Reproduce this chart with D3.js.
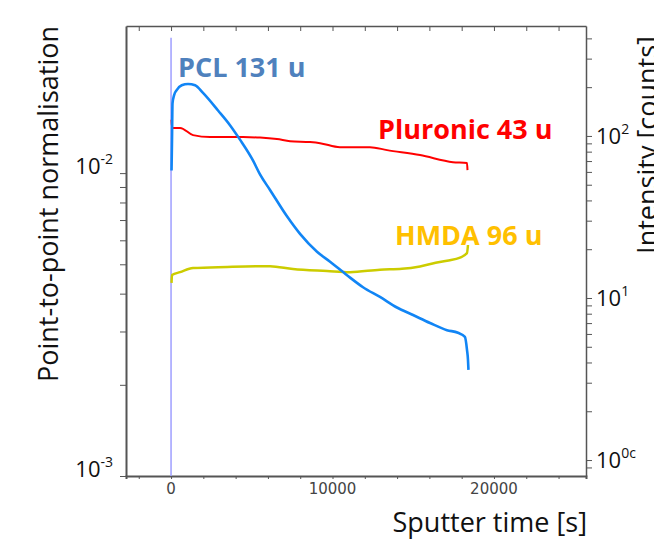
<!DOCTYPE html>
<html>
<head>
<meta charset="utf-8">
<script src="https://cdn.jsdelivr.net/npm/d3@7"></script>
<style>
  body { margin: 0; background: #fff; }
  svg { display: block; }
  .axis path, .axis line { stroke: #555; }
</style>
</head>
<body>
<div id="chart"></div>
<script>
//----------------------------
// ToF-SIMS depth profile
//----------------------------
const WIDTH = 654;
const HEIGHT = 541;

// sputter time [s] and point-to-point normalised intensity
const pclTime = [30, 60, 90, 190, 350, 660, 1050, 1490, 1980, 2910, 3650, 4270, 5080, 5510, 6130, 7180, 7990, 9040, 9850, 10900, 11890, 12940, 13990, 14990, 16040, 17090, 17770, 18200, 18330, 18390, 18420];
const pclValue = [0.0102, 0.0129, 0.0170, 0.0181, 0.0188, 0.0195, 0.0197, 0.0195, 0.0184, 0.0161, 0.0144, 0.0129, 0.0110, 0.0099, 0.0088, 0.0072, 0.0063, 0.0055, 0.0051, 0.0046, 0.0042, 0.0039, 0.0036, 0.0034, 0.0032, 0.00303, 0.00297, 0.00288, 0.00261, 0.00242, 0.00224];

const pluronicTime = [30, 60, 560, 1360, 2420, 4460, 5510, 6560, 7370, 8610, 9230, 10460, 12320, 13380, 15420, 17460, 18330, 18360];
const pluronicValue = [0.0150, 0.0141, 0.0141, 0.01335, 0.01315, 0.01315, 0.0131, 0.01295, 0.01275, 0.01266, 0.01256, 0.01218, 0.01218, 0.01191, 0.01147, 0.01087, 0.01079, 0.01023];

const hmdaTime = [30, 60, 560, 1360, 3470, 6130, 7550, 9660, 11080, 12940, 14300, 15420, 16200, 17090, 17900, 18330, 18390];
const hmdaValue = [0.00434, 0.00461, 0.00471, 0.00486, 0.00490, 0.00493, 0.00482, 0.00475, 0.00471, 0.00480, 0.00483, 0.00492, 0.00503, 0.00514, 0.00526, 0.00545, 0.00579];

const xTickLabels = [0, 10000, 20000];
const leftTickLabels = [["10", "-3", 1e-3], ["10", "-2", 1e-2]];
const rightTickLabels = [["10", "0c", 1], ["10", "1", 10], ["10", "2", 100]];
const zeroMarkerTop = 0.028;

const seriesLabels = [
  { name: "PCL 131 u", color: "#4f81bd", x: 178, y: 77 },
  { name: "Pluronic 43 u", color: "#ff0000", x: 378, y: 139 },
  { name: "HMDA 96 u", color: "#ffc000", x: 395, y: 245 },
];

const margin = { top: 26, right: 68, bottom: 65, left: 126 };
const plotW = WIDTH - margin.left - margin.right;
const plotH = HEIGHT - margin.top - margin.bottom;

const svg = d3
  .select("#chart")
  .append("svg")
  .attr("width", WIDTH)
  .attr("height", HEIGHT);

const x = d3.scaleLinear().domain([-2790, 25700]).range([margin.left, margin.left + plotW]);
const yLeft = d3.scaleLog().domain([1e-3, 0.0306]).range([margin.top + plotH, margin.top]);
const yRight = d3.scaleLog().domain([0.797, 477]).range([margin.top + plotH, margin.top]);

// tick positions
const xMinor = d3.range(-2000, 25000, 2000);
const leftMinor = d3.range(1, 11).map((d) => d * 1e-3);
const rightMinor = [0.9, 1, 2, 3, 4, 5, 6, 7, 8, 9, 10, 20, 30, 40, 50, 60, 70, 80, 90, 100, 200, 300, 400];

// bottom axis
svg.append("g")
  .attr("class", "axis")
  .attr("transform", `translate(0,${margin.top + plotH})`)
  .call(d3.axisBottom(x).tickValues(xMinor).tickSize(3).tickFormat(""))
  .call((g) => g.select(".domain").attr("stroke-width", 2));

// top axis, ticks inside
svg.append("g")
  .attr("class", "axis")
  .attr("transform", `translate(0,${margin.top})`)
  .call(d3.axisTop(x).tickValues(xMinor).tickSizeInner(-5).tickSizeOuter(0).tickFormat(""))
  .call((g) => g.select(".domain").attr("stroke-width", 1.5));

// left axis
svg.append("g")
  .attr("class", "axis")
  .attr("transform", `translate(${margin.left},0)`)
  .call(d3.axisLeft(yLeft).tickValues(leftMinor).tickSize(6).tickSizeOuter(0).tickFormat(""))
  .call((g) => g.select(".domain").attr("stroke-width", 2));

// right axis
svg.append("g")
  .attr("class", "axis")
  .attr("transform", `translate(${margin.left + plotW},0)`)
  .call(d3.axisRight(yRight).tickValues(rightMinor).tickSize(6).tickSizeOuter(0).tickFormat(""))
  .call((g) => g.select(".domain").attr("stroke-width", 1.5));

// x tick labels
svg.append("g")
  .selectAll("text")
  .data(xTickLabels)
  .enter()
  .append("text")
  .attr("x", (d) => x(d))
  .attr("y", margin.top + plotH + 18)
  .attr("text-anchor", "middle")
  .attr("font-family", "DejaVu Sans")
  .attr("font-size", 15)
  .attr("fill", "#444")
  .text((d) => d);

// left tick labels (baseline on tick)
const lt = svg.append("g")
  .selectAll("text")
  .data(leftTickLabels)
  .enter()
  .append("text")
  .attr("x", margin.left - 13)
  .attr("y", (d) => yLeft(d[2]) + 1)
  .attr("text-anchor", "end")
  .attr("font-family", "Open Sans")
  .attr("font-size", 22)
  .attr("fill", "#111");
lt.append("tspan").text((d) => d[0]);
lt.append("tspan").attr("dy", -10).attr("font-size", 14).text((d) => d[1]);

// right tick labels (centred on tick)
const rt = svg.append("g")
  .selectAll("text")
  .data(rightTickLabels)
  .enter()
  .append("text")
  .attr("x", margin.left + plotW + 10)
  .attr("y", (d) => yRight(d[2]) + 8)
  .attr("font-family", "Open Sans")
  .attr("font-size", 22)
  .attr("fill", "#111");
rt.append("tspan").text((d) => d[0]);
rt.append("tspan").attr("dy", -10).attr("font-size", 14).text((d) => d[1]);

// x = 0 marker line
svg.append("line")
  .attr("x1", x(0))
  .attr("x2", x(0))
  .attr("y1", yLeft(zeroMarkerTop))
  .attr("y2", margin.top + plotH)
  .attr("stroke", "#9f9fff")
  .attr("stroke-width", 1.5);

// series
const line = d3.line()
  .curve(d3.curveMonotoneX)
  .x((d) => x(d[0]))
  .y((d) => yLeft(d[1]));

const series = [
  { t: hmdaTime, v: hmdaValue, color: "#cccc00", w: 2.5 },
  { t: pluronicTime, v: pluronicValue, color: "#ff0000", w: 2 },
  { t: pclTime, v: pclValue, color: "#1185f5", w: 2.6 },
];

svg.append("g")
  .selectAll("path")
  .data(series)
  .enter()
  .append("path")
  .attr("d", (s) => line(d3.zip(s.t, s.v)))
  .attr("fill", "none")
  .attr("stroke", (s) => s.color)
  .attr("stroke-width", (s) => s.w)
  .attr("stroke-linejoin", "round");

// series labels
svg.append("g")
  .selectAll("text")
  .data(seriesLabels)
  .enter()
  .append("text")
  .attr("x", (d) => d.x)
  .attr("y", (d) => d.y)
  .attr("font-family", "Open Sans")
  .attr("font-weight", "bold")
  .attr("font-size", 27)
  .attr("fill", (d) => d.color)
  .text((d) => d.name);

// axis titles
svg.append("text")
  .attr("transform", `translate(58,${204}) rotate(-90)`)
  .attr("text-anchor", "middle")
  .attr("font-family", "Open Sans")
  .attr("font-size", 27)
  .attr("fill", "#111")
  .text("Point-to-point normalisation");

svg.append("text")
  .attr("transform", `translate(657,${145}) rotate(-90)`)
  .attr("text-anchor", "middle")
  .attr("font-family", "Open Sans")
  .attr("font-size", 27)
  .attr("fill", "#111")
  .text("Intensity [counts]");

svg.append("text")
  .attr("x", 587)
  .attr("y", 532)
  .attr("text-anchor", "end")
  .attr("font-family", "Open Sans")
  .attr("font-size", 27)
  .attr("fill", "#111")
  .text("Sputter time [s]");
</script>
</body>
</html>
